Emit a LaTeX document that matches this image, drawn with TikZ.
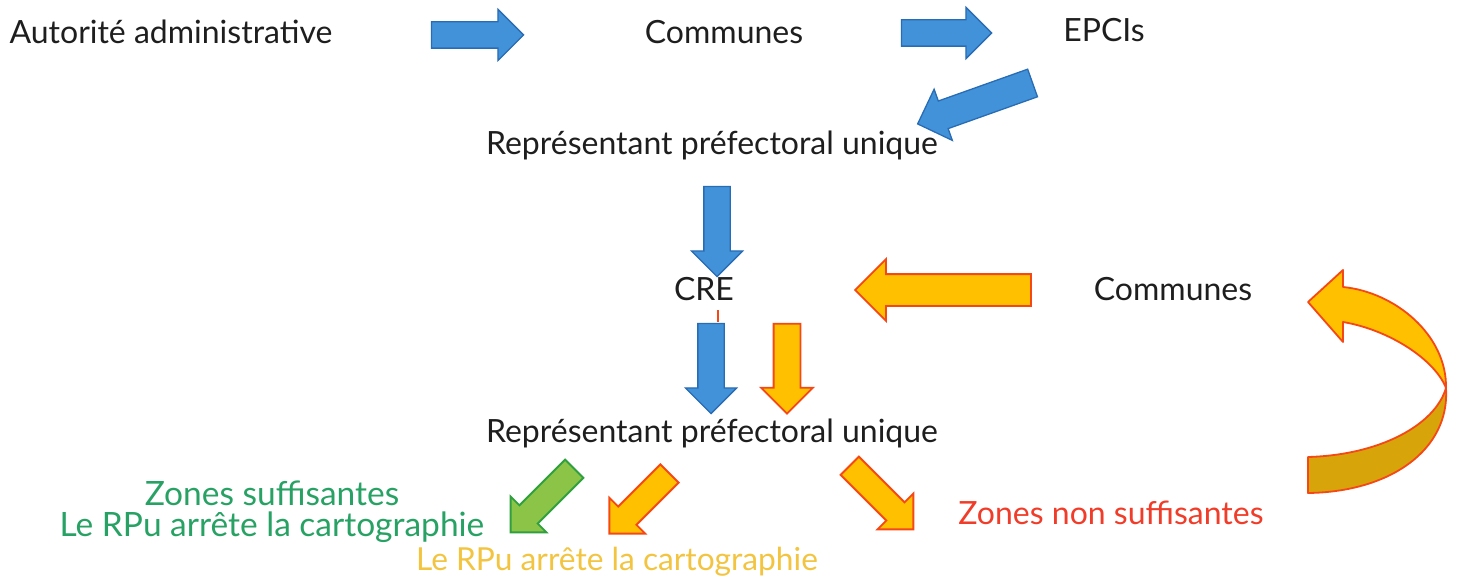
\documentclass[tikz,border=0pt]{standalone}
\usepackage{fontspec}
\setmainfont{Lato}
\usetikzlibrary{shapes.arrows}

\definecolor{inkdark}{RGB}{30,30,30}
\definecolor{bluefill}{RGB}{66,146,218}
\definecolor{blueline}{RGB}{40,108,180}
\definecolor{orangefill}{RGB}{255,192,0}
\definecolor{orangeline}{RGB}{246,72,22}
\definecolor{goldfill}{RGB}{215,165,10}
\definecolor{greenfill}{RGB}{140,196,72}
\definecolor{greenline}{RGB}{48,160,62}
\definecolor{greentext}{RGB}{40,162,100}
\definecolor{yellowtext}{RGB}{242,196,64}
\definecolor{redtext}{RGB}{240,60,40}

\begin{document}
\begin{tikzpicture}[
        x=1pt, y=-1pt,
        every node/.style = {font=\fontsize{32}{36}\selectfont, text=inkdark, inner sep=0pt},
        blockarrow/.style = {single arrow, draw, minimum width=0pt, inner xsep=0pt,
            inner ysep=12.5pt, single arrow head extend=12.5pt},
        bluearrow/.style = {blockarrow, fill=bluefill, draw=blueline, line width=1.3pt},
        orangearrow/.style = {blockarrow, fill=orangefill, draw=orangeline, line width=1.8pt},
        greenarrow/.style = {blockarrow, fill=greenfill, draw=greenline, line width=1.8pt}
    ]

    \useasboundingbox (0,0) rectangle (1458,580);

    % texts
    \node (autorite) at (171,32) {Autorité administrative};
    \node (communesA) at (724,32) {Communes};
    \node (epcis) at (1104,30) {EPCIs};
    \node (rpuA) at (712,145) {Représentant préfectoral unique};
    \node (cre) at (704,289) {CRE};
    \node (communesB) at (1173,289) {Communes};
    \node (rpuB) at (712,433) {Représentant préfectoral unique};
    \node[text=greentext, align=center, font=\fontsize{33.5}{31}\selectfont] (zonesok) at (272,512) {Zones suffisantes\\Le RPu arrête la cartographie};
    \node[text=yellowtext, font=\fontsize{31.7}{36}\selectfont] (rpuyellow) at (617,562) {Le RPu arrête la cartographie};
    \node[text=redtext] (zonesko) at (1111,513) {Zones non suffisantes};

    % block arrows
    \node[bluearrow, minimum height=92pt] (arrA) at (471,35) {};
    \node[bluearrow, minimum height=90pt] (arrB) at (940,33) {};
    \node[bluearrow, minimum height=122pt, inner ysep=14pt, rotate=199.6] (arrC) at (982,101) {};
    \node[bluearrow, minimum height=90pt, rotate=-90] (arrD) at (717,225) {};
    \node[orangearrow, minimum height=176pt, inner ysep=15pt, single arrow head extend=15pt, rotate=180] (arrE) at (951,290) {};
    \node[bluearrow, minimum height=90pt, rotate=-90] (arrF) at (711,362) {};
    \node[orangearrow, minimum height=90pt, rotate=-90] (arrG) at (787,362) {};
    \node[greenarrow, minimum height=90pt, inner ysep=12pt, rotate=225] (arrH) at (547,496) {};
    \node[orangearrow, minimum height=85pt, inner ysep=12pt, rotate=225] (arrI) at (644,499) {};
    \node[orangearrow, minimum height=90pt, inner ysep=12pt, rotate=-45] (arrJ) at (877,493) {};

    \draw[orangeline, line width=1.2pt] (718,310) -- (718,322);

    % curved arrow back to the communes
    \filldraw[fill=goldfill, draw=orangeline, line width=1.8pt, line join=round]
        (1308,457) .. controls (1380,455) and (1435,425) .. (1446,388)
        .. controls (1450,450) and (1390,492) .. (1308,493) -- cycle;
    \filldraw[fill=orangefill, draw=orangeline, line width=1.8pt, line join=round]
        (1308,302) -- (1343,270) -- (1343,287)
        .. controls (1395,292) and (1447,335) .. (1446,388)
        .. controls (1435,360) and (1390,330) .. (1343,322)
        -- (1343,342) -- cycle;
\end{tikzpicture}
\end{document}
